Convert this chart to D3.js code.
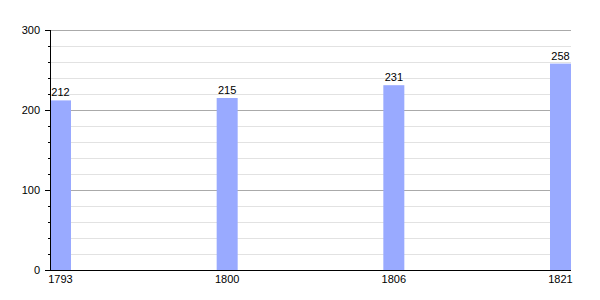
<!DOCTYPE html>
<html>
<head>
<meta charset="utf-8">
<script src="https://cdn.jsdelivr.net/npm/d3@7"></script>
<style>
  body { margin: 0; background: #fff; }
  text { font-family: "Liberation Sans", Arial, sans-serif; font-size: 11px; fill: #000; }
</style>
</head>
<body>
<div id="chart"></div>
<script>
// Données
const years = ["1793", "1800", "1806", "1821"];
const population = [212, 215, 231, 258];
const majorTicks = [0, 100, 200, 300];
const minorTicks = [20, 40, 60, 80, 120, 140, 160, 180, 220, 240, 260, 280];

const width = 600, height = 300;
const plotLeft = 50, plotRight = 571, plotTop = 30, plotBottom = 270;
const barWidth = 21;

const svg = d3.select("#chart")
    .append("svg")
    .attr("width", width)
    .attr("height", height);

const y = d3.scaleLinear().domain([0, 300]).range([plotBottom, plotTop]);
const x = d3.scalePoint().domain(years).range([plotLeft, plotRight - barWidth]);

// lignes de grille
svg.append("g")
    .selectAll("line")
    .data(minorTicks)
    .enter().append("line")
    .attr("x1", plotLeft).attr("x2", plotRight)
    .attr("y1", d => y(d) + 0.5).attr("y2", d => y(d) + 0.5)
    .attr("stroke", "#e2e2e2");

svg.append("g")
    .selectAll("line")
    .data(majorTicks.filter(d => d > 0))
    .enter().append("line")
    .attr("x1", plotLeft).attr("x2", plotRight)
    .attr("y1", d => y(d) + 0.5).attr("y2", d => y(d) + 0.5)
    .attr("stroke", "#aaa");

// barres
svg.append("g")
    .selectAll("rect")
    .data(population)
    .enter().append("rect")
    .attr("x", (d, i) => x(years[i]))
    .attr("y", d => y(d))
    .attr("width", barWidth)
    .attr("height", d => plotBottom - y(d))
    .attr("fill", "#99aaff");

svg.append("g")
    .selectAll("text")
    .data(population)
    .enter().append("text")
    .attr("x", (d, i) => x(years[i]) + barWidth / 2)
    .attr("y", d => y(d) - 4)
    .attr("text-anchor", "middle")
    .text(d => d);

// axe Y
const yAxis = svg.append("g");
yAxis.append("line")
    .attr("x1", plotLeft + 0.5).attr("x2", plotLeft + 0.5)
    .attr("y1", plotTop).attr("y2", plotBottom)
    .attr("stroke", "#000");
yAxis.selectAll(".minor")
    .data(minorTicks)
    .enter().append("line")
    .attr("x1", plotLeft - 2).attr("x2", plotLeft)
    .attr("y1", d => y(d) + 0.5).attr("y2", d => y(d) + 0.5)
    .attr("stroke", "#000");
yAxis.selectAll(".major")
    .data(majorTicks)
    .enter().append("line")
    .attr("x1", plotLeft - 5).attr("x2", plotLeft)
    .attr("y1", d => y(d) + 0.5).attr("y2", d => y(d) + 0.5)
    .attr("stroke", "#000");
yAxis.selectAll("text")
    .data(majorTicks)
    .enter().append("text")
    .attr("x", plotLeft - 10)
    .attr("y", d => y(d) + 4)
    .attr("text-anchor", "end")
    .text(d => d);

// axe X
svg.append("line")
    .attr("x1", plotLeft).attr("x2", plotRight)
    .attr("y1", plotBottom + 0.5).attr("y2", plotBottom + 0.5)
    .attr("stroke", "#000");
svg.append("g")
    .selectAll("text")
    .data(years)
    .enter().append("text")
    .attr("x", d => x(d) + barWidth / 2)
    .attr("y", plotBottom + 13)
    .attr("text-anchor", "middle")
    .text(d => d);
</script>
</body>
</html>
